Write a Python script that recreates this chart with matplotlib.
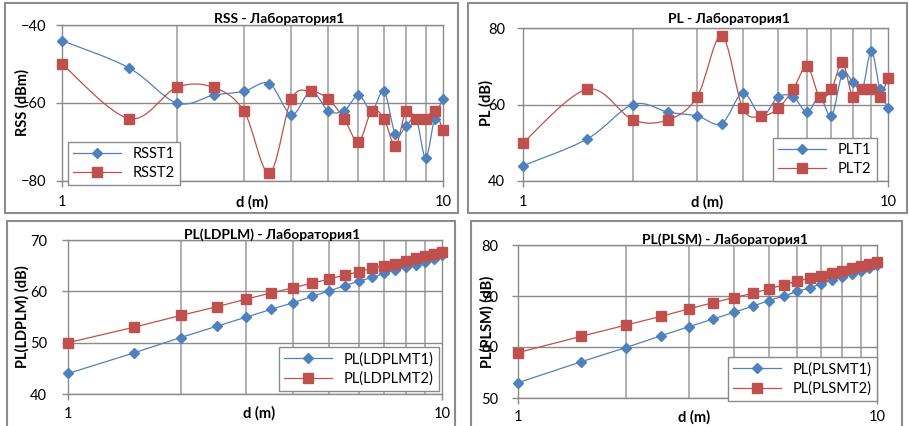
import numpy as np
import matplotlib
matplotlib.use('Agg')
import matplotlib.pyplot as plt
from matplotlib.path import Path
from matplotlib.patches import PathPatch, Rectangle
from matplotlib.lines import Line2D

plt.rcParams['font.family'] = ['Lato', 'DejaVu Sans']

# distance (m)
d = [1, 1.5, 2, 2.5, 3, 3.5, 4, 4.5, 5, 5.5, 6, 6.5, 7, 7.5, 8, 8.5, 9, 9.5, 10]

# RSS (dBm)
rss_t1 = [-44, -51, -60, -58, -57, -55, -63, -57, -62, -62, -58, -62, -57, -68, -66, -64, -74, -64, -59]
rss_t2 = [-50, -64, -56, -56, -62, -78, -59, -57, -59, -64, -70, -62, -64, -71, -62, -64, -64, -62, -67]

# PL (dB)
pl_t1 = [44, 51, 60, 58, 57, 55, 63, 57, 62, 62, 58, 62, 57, 68, 66, 64, 74, 64, 59]
pl_t2 = [50, 64, 56, 56, 62, 78, 59, 57, 59, 64, 70, 62, 64, 71, 62, 64, 64, 62, 67]

# PL(LDPLM) (dB)
ldplm_t1 = [44.0, 48.0, 51.0, 53.2, 55.0, 56.5, 57.8, 59.0, 60.1, 61.1, 62.0, 62.7, 63.5, 64.1, 64.7, 65.2, 65.8, 66.3, 67.0]
ldplm_t2 = [50.0, 53.0, 55.3, 57.0, 58.5, 59.7, 60.7, 61.6, 62.4, 63.2, 63.8, 64.5, 65.0, 65.4, 66.0, 66.4, 66.9, 67.2, 67.7]

# PL(PLSM) (dB)
plsm_t1 = [53.0, 57.1, 59.9, 62.2, 64.0, 65.5, 66.8, 68.0, 69.1, 70.0, 70.9, 71.6, 72.4, 73.1, 73.7, 74.4, 74.9, 75.4, 76.0]
plsm_t2 = [58.9, 62.1, 64.3, 66.0, 67.5, 68.7, 69.7, 70.5, 71.4, 72.2, 72.9, 73.5, 74.0, 74.5, 74.9, 75.4, 75.8, 76.2, 76.7]

BLUE = '#4F81BD'
RED = '#C0504D'
W, H = 909, 426

fig = plt.figure(figsize=(W / 100, H / 100), dpi=100)


def px_axes(x0, y0, x1, y1):
    return fig.add_axes([x0 / W, 1 - y1 / H, (x1 - x0) / W, (y1 - y0) / H])


def ftext(x, y, s, **kw):
    fig.text(x / W, 1 - y / H, s, ha='center', va='center', **kw)


def smooth_line(ax, x, y, color):
    # excel style smoothed line (bezier through the points, in log-x space)
    pts = np.column_stack([np.log10(x), np.asarray(y, float)])
    n = len(pts)
    verts = [pts[0]]
    codes = [Path.MOVETO]
    for i in range(n - 1):
        p0 = pts[max(i - 1, 0)]
        p1 = pts[i]
        p2 = pts[i + 1]
        p3 = pts[min(i + 2, n - 1)]
        verts += [p1 + (p2 - p0) / 6, p2 - (p3 - p1) / 6, p2]
        codes += [Path.CURVE4] * 3
    verts = np.array(verts)
    verts[:, 0] = 10 ** verts[:, 0]
    ax.add_patch(PathPatch(Path(verts, codes), fill=False, edgecolor=color, lw=0.9, zorder=3, clip_on=False))


def style(ax, ylim, yticks, ypad, xpad=6):
    ax.set_xscale('log')
    ax.set_xlim(1, 10)
    ax.set_ylim(*ylim)
    ax.set_xticks([1, 10])
    ax.set_xticklabels(['1', '10'])
    ax.set_xticks([2, 3, 4, 5, 6, 7, 8, 9], minor=True)
    ax.xaxis.set_minor_formatter(plt.NullFormatter())
    ax.set_yticks(yticks)
    ax.tick_params(axis='x', which='major', length=4, width=1, color='#8a8a8a', pad=xpad, labelsize=10.5)
    ax.tick_params(axis='x', which='minor', length=0)
    ax.tick_params(axis='y', length=4, width=1, color='#8a8a8a', pad=ypad, labelsize=10.5)
    ax.grid(True, axis='x', which='minor', color='#b0b0b0', lw=1.4)
    ax.grid(True, axis='y', which='major', color='#8a8a8a', lw=1.0)
    for sp in ax.spines.values():
        sp.set_color('#8a8a8a')
        sp.set_linewidth(1.0)
    ax.set_axisbelow(True)


def add_legend(ax, labels, x0, y0):
    handles = [Line2D([], [], color=BLUE, lw=0.9, marker='D', ms=4.8, mfc=BLUE, mec=BLUE),
               Line2D([], [], color=RED, lw=0.9, marker='s', ms=6.5, mfc=RED, mec=RED)]
    leg = ax.legend(handles, labels, loc='upper left', bbox_to_anchor=(x0 / W, 1 - y0 / H),
                    bbox_transform=fig.transFigure, borderaxespad=0, fancybox=False,
                    framealpha=1, edgecolor='#8a8a8a', fontsize=10.5, handlelength=3.3,
                    handletextpad=0.8, labelspacing=0.35, borderpad=0.35, numpoints=1)
    leg.get_frame().set_linewidth(1.0)
    leg.set_zorder(10)


# panel borders
for (x0, y0, x1, y1) in [(5, 3, 458, 213), (468, 3, 907, 213), (7, 221, 455, 430), (471, 221, 902, 430)]:
    fig.patches.append(Rectangle((x0 / W, 1 - y1 / H), (x1 - x0) / W, (y1 - y0) / H,
                                 transform=fig.transFigure, fill=False, edgecolor='#8c8c8c', lw=1.5))

# RSS
ax1 = px_axes(62, 25, 443, 181)
style(ax1, (-80, -40), [-80, -60, -40], 7)
smooth_line(ax1, d, rss_t1, BLUE)
smooth_line(ax1, d, rss_t2, RED)
ax1.plot(d, rss_t1, ls='none', marker='D', ms=4.8, color=BLUE, zorder=4, clip_on=False)
ax1.plot(d, rss_t2, ls='none', marker='s', ms=6.5, color=RED, zorder=4, clip_on=False)
add_legend(ax1, ['RSST1', 'RSST2'], 68, 142)
ftext(279, 19, 'RSS - Лаборатория1', fontsize=10, fontweight='bold')
ftext(252, 202, 'd (m)', fontsize=10.5, fontweight='bold')
ftext(22, 103, 'RSS (dBm)', fontsize=10.5, fontweight='bold', rotation=90)

# PL
ax2 = px_axes(523, 28, 888, 181)
style(ax2, (40, 80), [40, 60, 80], 9)
smooth_line(ax2, d, pl_t1, BLUE)
smooth_line(ax2, d, pl_t2, RED)
ax2.plot(d, pl_t1, ls='none', marker='D', ms=4.8, color=BLUE, zorder=4, clip_on=False)
ax2.plot(d, pl_t2, ls='none', marker='s', ms=6.5, color=RED, zorder=4, clip_on=False)
add_legend(ax2, ['PLT1', 'PLT2'], 773, 138)
ftext(729, 19, 'PL - Лаборатория1', fontsize=10, fontweight='bold')
ftext(707, 202, 'd (m)', fontsize=10.5, fontweight='bold')
ftext(486, 103, 'PL (dB)', fontsize=10.5, fontweight='bold', rotation=90)

# PL(LDPLM)
ax3 = px_axes(68, 240, 442, 394)
style(ax3, (40, 70), [40, 50, 60, 70], 11, xpad=5.5)
ax3.plot(d, ldplm_t1, color=BLUE, lw=0.9, marker='D', ms=4.8, zorder=4, clip_on=False)
ax3.plot(d, ldplm_t2, color=RED, lw=0.9, marker='s', ms=6.5, zorder=4, clip_on=False)
add_legend(ax3, ['PL(LDPLMT1)', 'PL(LDPLMT2)'], 279, 347)
ftext(272, 235, 'PL(LDPLM) - Лаборатория1', fontsize=10, fontweight='bold')
ftext(259, 413, 'd (m)', fontsize=10.5, fontweight='bold')
ftext(22, 317, 'PL(LDPLM) (dB)', fontsize=10.5, fontweight='bold', rotation=90)

# PL(PLSM)
ax4 = px_axes(518, 245, 877, 398)
style(ax4, (50, 80), [50, 60, 70, 80], 10, xpad=4.5)
ax4.plot(d, plsm_t1, color=BLUE, lw=0.9, marker='D', ms=4.8, zorder=4, clip_on=False)
ax4.plot(d, plsm_t2, color=RED, lw=0.9, marker='s', ms=6.5, zorder=4, clip_on=False)
add_legend(ax4, ['PL(PLSMT1)', 'PL(PLSMT2)'], 728, 357)
ftext(725, 240, 'PL(PLSM) - Лаборатория1', fontsize=10, fontweight='bold')
ftext(694, 417, 'd (m)', fontsize=10.5, fontweight='bold')
ftext(487, 322, 'PL(PLSM) (dB)', fontsize=10.5, fontweight='bold', rotation=90)

fig.savefig('out.png', dpi=100)
